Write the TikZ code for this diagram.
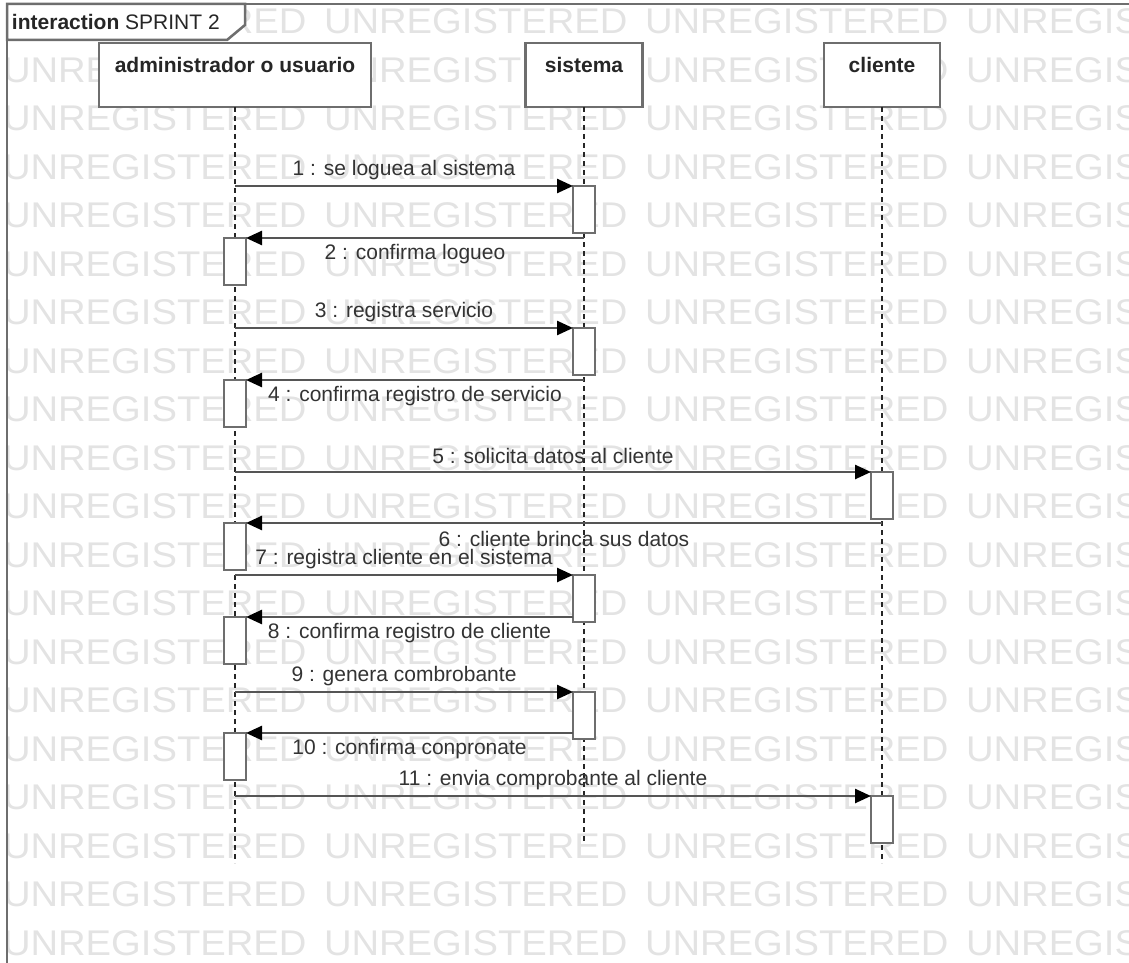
\documentclass[tikz,border=0pt]{standalone}
\usepackage{fontspec}
\setmainfont{Liberation Sans}
\newfontfamily\wmfont[FakeStretch=1.07]{Liberation Sans}
\usetikzlibrary{arrows.meta}
\definecolor{edge}{HTML}{6E6E6E}
\definecolor{wmark}{HTML}{E3E3E3}
\definecolor{ink}{HTML}{333333}
\definecolor{msgline}{HTML}{555555}

\begin{document}
\begin{tikzpicture}[x=1pt,y=-1pt,
  every node/.style={inner sep=0pt, outer sep=0pt},
  wm/.style={anchor=west, text=wmark, font=\wmfont\fontsize{35.7}{36}\selectfont},
  umlframe/.style={draw=edge, line width=2.5pt},
  headbox/.style={draw=edge, line width=2.5pt, fill=white, minimum height=64pt},
  headtext/.style={font=\fontsize{21}{25}\selectfont\bfseries, text=black!85},
  lifeline/.style={draw=black!85, line width=1.6pt, dash pattern=on 5pt off 4pt},
  actbar/.style={draw=edge, line width=2pt, fill=white, minimum width=22pt, minimum height=47pt, anchor=north},
  msg/.style={draw=msgline, line width=2.5pt, -{Triangle[length=16pt,width=14pt,color=black]}},
  msglabel/.style={font=\fontsize{21}{25}\selectfont, text=ink},
  fwd/.style={msglabel, midway, yshift=16pt},
  ret/.style={msglabel, midway, yshift=-16pt},
]
\useasboundingbox (0,0) rectangle (1129,963);

% background watermark rows
\begin{scope}
  \clip (0,0) rectangle (1129,963);
  \foreach \r in {0,...,19} {
    \foreach \c in {0,...,3} {
      \node[wm] (wm-\r-\c) at ({3+321*\c},{21.5+48.5*\r}) {UNREGISTERED};
    }
  }
\end{scope}

% interaction frame and its name tab
\draw[umlframe] (1129,4) -- (7,4) -- (7,963);
\draw[umlframe, fill=white] (7,4) -- (245,4) -- (245,25) -- (227,40) -- (7,40) -- cycle;
\node[anchor=west, font=\fontsize{21}{25}\selectfont, text=black!85] (title) at (12,22)
  {\textbf{interaction} SPRINT 2};

% lifeline heads
\node[headbox, minimum width=272pt] (hA) at (235,75) {};
\node[headbox, minimum width=117pt] (hS) at (584,75) {};
\node[headbox, minimum width=116pt] (hC) at (882,75) {};
\node[headtext] (hAt) at ([yshift=-22pt]hA.north) {administrador o usuario};
\node[headtext] (hSt) at ([yshift=-22pt]hS.north) {sistema};
\node[headtext] (hCt) at ([yshift=-22pt]hC.north) {cliente};

% lifelines
\coordinate (eA) at (235,863);
\coordinate (eS) at (584,843);
\coordinate (eC) at (882,863);
\draw[lifeline] (hA.south) -- (eA);
\draw[lifeline] (hS.south) -- (eS);
\draw[lifeline] (hC.south) -- (eC);

% activation bars
\node[actbar] (b1)  at (584,186) {};
\node[actbar] (b2)  at (235,238) {};
\node[actbar] (b3)  at (584,328) {};
\node[actbar] (b4)  at (235,380) {};
\node[actbar] (b5)  at (882,472) {};
\node[actbar] (b6)  at (235,523) {};
\node[actbar] (b7)  at (584,575) {};
\node[actbar] (b8)  at (235,617) {};
\node[actbar] (b9)  at (584,692) {};
\node[actbar] (b10) at (235,733) {};
\node[actbar] (b11) at (882,796) {};

% messages
\draw[msg] (hA.south |- b1.north) -- (b1.north west)
  node[fwd] (m1) {1 : se loguea al sistema};
\draw[msg] (hS.south |- b2.north) -- (b2.north east)
  node[ret] (m2) {2 : confirma logueo};
\draw[msg] (hA.south |- b3.north) -- (b3.north west)
  node[fwd] (m3) {3 : registra servicio};
\draw[msg] (hS.south |- b4.north) -- (b4.north east)
  node[ret] (m4) {4 : confirma registro de servicio};
\draw[msg] (hA.south |- b5.north) -- (b5.north west)
  node[fwd] (m5) {5 : solicita datos al cliente};
\draw[msg] (hC.south |- b6.north) -- (b6.north east)
  node[ret] (m6) {6 : cliente brinca sus datos};
\draw[msg] (hA.south |- b7.north) -- (b7.north west)
  node[fwd] (m7) {7 : registra cliente en el sistema};
\draw[msg] (b7.west |- b8.north) -- (b8.north east)
  node[ret] (m8) {8 : confirma registro de cliente};
\draw[msg] (hA.south |- b9.north) -- (b9.north west)
  node[fwd] (m9) {9 : genera combrobante};
\draw[msg] (b9.west |- b10.north) -- (b10.north east)
  node[ret] (m10) {10 : confirma conpronate};
\draw[msg] (hA.south |- b11.north) -- (b11.north west)
  node[fwd] (m11) {11 : envia comprobante al cliente};
\end{tikzpicture}
\end{document}
